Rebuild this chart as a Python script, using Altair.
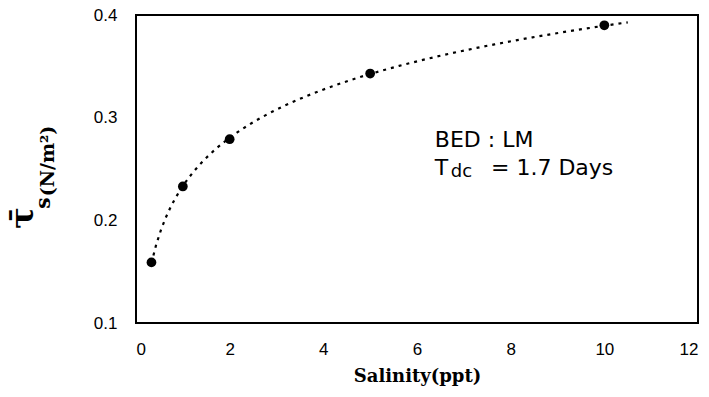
import altair as alt
import pandas as pd

# ---- data ----
salinity = [0.33, 1.0, 2.0, 5.0, 10.0]
tau_s = [0.159, 0.233, 0.279, 0.343, 0.390]
x_ticks = [0, 2, 4, 6, 8, 10, 12]
y_ticks = [0.1, 0.2, 0.3, 0.4]

note_text = ["BED : LM", "T", "dc", "= 1.7 Days"]
note_x = [6.38, 6.38, 6.72, 7.58]
note_y = [0.2717, 0.2442, 0.2422, 0.2442]
note_size = [22, 22, 18, 22]

df = pd.DataFrame({"salinity": salinity, "tau": tau_s})
notes = pd.DataFrame({"t": note_text, "x": note_x, "y": note_y, "fs": note_size})
one = pd.DataFrame({"k": [0]})

W, H = 562, 308
xscale = alt.Scale(domain=[0, 12], nice=False)
yscale = alt.Scale(domain=[0.1, 0.4], nice=False, zero=False)

xaxis = alt.Axis(values=x_ticks, grid=False, domain=False, ticks=False,
                 labelPadding=18, labelFont="Liberation Sans", labelFontSize=17,
                 labelColor="black", labelAngle=0, format="d",
                 title="Salinity(ppt)", titleFont="DejaVu Serif", titleFontSize=18,
                 titleFontWeight="bold", titleColor="black", titlePadding=10)
yaxis = alt.Axis(values=y_ticks, grid=False, domain=False, ticks=False,
                 labelPadding=19, labelFont="Liberation Sans", labelFontSize=17,
                 labelColor="black", format=".1f", title=None)

X = alt.X("salinity:Q", scale=xscale, axis=xaxis)
Y = alt.Y("tau:Q", scale=yscale, axis=yaxis)

trend = alt.Chart(df).transform_regression(
    "salinity", "tau", method="log", extent=[0.33, 10.5]
).mark_line(color="black", strokeDash=[3, 5], strokeWidth=2.2).encode(x=X, y=Y)

points = alt.Chart(df).mark_circle(color="black", opacity=1, size=95).encode(x=X, y=Y)

note_layer = alt.Chart(notes).mark_text(
    align="left", baseline="alphabetic", font="DejaVu Sans", color="black"
).encode(
    x=alt.X("x:Q", scale=xscale),
    y=alt.Y("y:Q", scale=yscale),
    text="t:N",
    size=alt.Size("fs:Q", scale=None),
)

tau_sym = alt.Chart(one).mark_text(
    text="τ\u0304", angle=270, font="DejaVu Serif", fontWeight="bold", fontSize=32,
    align="center", baseline="alphabetic", color="black"
).encode(x=alt.value(-103), y=alt.value(203))

sub_s = alt.Chart(one).mark_text(
    text="s", angle=270, font="DejaVu Serif", fontWeight="bold", fontSize=20,
    align="center", baseline="alphabetic", color="black"
).encode(x=alt.value(-86), y=alt.value(188))

unit = alt.Chart(one).mark_text(
    text="(N/m²)", angle=270, font="DejaVu Serif", fontWeight="bold", fontSize=19,
    align="center", baseline="alphabetic", color="black"
).encode(x=alt.value(-82), y=alt.value(146))

chart = alt.layer(trend, points, note_layer, tau_sym, sub_s, unit).properties(
    width=W, height=H,
    autosize=alt.AutoSizeParams(type="none"),
    padding={"left": 136, "top": 15, "right": 11, "bottom": 74},
).configure_view(stroke="black", strokeWidth=2)

chart.save("out.html", embed_options={"renderer": "svg", "actions": False})
